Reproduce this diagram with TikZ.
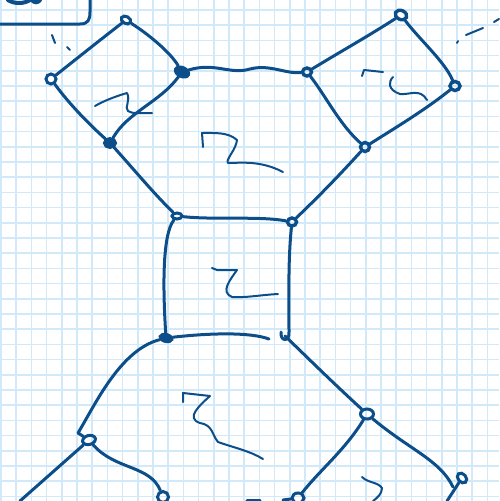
\documentclass[tikz,border=0pt]{standalone}
\usetikzlibrary{shapes.geometric}
\definecolor{ink}{RGB}{12,78,138}
\definecolor{gridc}{RGB}{210,233,249}
\tikzset{
  edge/.style={draw=ink,line width=3pt,line cap=round,line join=round},
  scrib/.style={draw=ink,line width=2pt,line cap=round,line join=round},
  vtx/.style={ellipse,draw=ink,line width=3pt,inner sep=0pt,minimum width=10pt,minimum height=8pt},
  vtxf/.style={vtx,fill=ink},
}
\begin{document}
\begin{tikzpicture}[x=1pt,y=-1pt]
\useasboundingbox (0,0) rectangle (499,501);
\fill[white] (0,0) rectangle (499,501);
% grid paper
\foreach \i in {0,...,32}{
  \draw[gridc,line width=1.6pt] ({1+15.2*\i},0) -- ({1+15.2*\i},501);
  \draw[gridc,line width=1.6pt] (0,{10+15.2*\i}) -- (499,{10+15.2*\i});
}
% vertices
\node[vtx,rotate=-30,minimum width=10pt,minimum height=7pt] (A) at (126,20) {};
\node[vtx,minimum width=10pt,minimum height=10pt] (B) at (51,79) {};
\node[vtxf,rotate=-25,minimum width=14pt,minimum height=9pt] (C) at (182,72) {};
\node[vtxf,minimum width=11pt,minimum height=9pt] (D) at (110,143) {};
\node[vtx,line width=3.4pt,minimum width=9pt,minimum height=8pt] (E) at (307,72) {};
\node[vtx,line width=3.4pt,rotate=-25,minimum width=12pt,minimum height=9pt] (F) at (401,15) {};
\node[vtx,line width=3.4pt,minimum width=10pt,minimum height=9pt] (G) at (455,86) {};
\node[vtx,line width=3.4pt,minimum width=9pt,minimum height=9pt] (H) at (365,147) {};
\node[vtx,line width=3.4pt,minimum width=9pt,minimum height=8pt] (I) at (292,222) {};
\node[vtx,minimum width=10pt,minimum height=6pt] (J) at (177,216) {};
\node[vtxf,rotate=-15,minimum width=12pt,minimum height=7pt] (K) at (166,338) {};
\coordinate (L) at (285,336);
\node[vtx,rotate=15,minimum width=13pt,minimum height=9pt] (M) at (89,440) {};
\node[vtx,minimum width=11pt,minimum height=11pt] (N) at (163,497) {};
\node[vtx,minimum width=13pt,minimum height=10pt] (O) at (367,414) {};
\node[vtx,minimum width=12pt,minimum height=10pt] (P) at (298,498) {};
\node[vtx,rotate=-50,minimum width=11pt,minimum height=8pt] (Q) at (462,478) {};
\coordinate (X1) at (20,501);
\coordinate (X2) at (447,501);
% edges: top-left square
\draw[edge] (A) .. controls (100,40) and (75,60) .. (B);
\draw[edge] (A) .. controls (148,34) and (170,52) .. (C);
\draw[edge] (B) .. controls (70,105) and (90,125) .. (D);
\draw[edge] (D) .. controls (128,112) and (160,102) .. (C);
% upper hexagon
\draw[edge] (C) .. controls (215,62) and (230,75) .. (250,69) .. controls (270,64) and (285,74) .. (E);
\draw[edge] (E) .. controls (325,95) and (340,125) .. (H);
\draw[edge] (H) .. controls (335,180) and (315,200) .. (I);
\draw[edge] (I) .. controls (260,216) and (215,220) .. (J);
\draw[edge] (J) .. controls (155,195) and (130,165) .. (D);
% top-right square
\draw[edge] (E) .. controls (340,52) and (370,35) .. (F);
\draw[edge] (F) .. controls (420,40) and (445,62) .. (G);
\draw[edge] (G) .. controls (425,110) and (395,128) .. (H);
% middle square
\draw[edge] (J) .. controls (162,235) and (163,290) .. (K);
\draw[edge] (I) .. controls (288,260) and (289,300) .. (289,332) .. controls (290,342) and (280,342) .. (281,332);
\draw[edge] (K) .. controls (210,333) and (250,332) .. (269,339);
% lower hexagon
\draw[edge] (K) .. controls (120,350) and (95,405) .. (78,433) -- (M);
\draw[edge] (M) .. controls (115,470) and (150,465) .. (N);
\draw[edge] (M) -- (X1);
\draw[edge] (L) .. controls (310,360) and (330,380) .. (O);
\draw[edge] (O) .. controls (345,450) and (320,470) .. (P);
\draw[edge] (O) .. controls (410,450) and (440,460) .. (453,487);
\draw[edge] (Q) -- (X2);
\draw[edge] (P) -- (283,500);
\draw[edge] (247,500) -- (260,500);
% top-left box remnant and marks
\draw[edge] (0,24) -- (80,24) .. controls (88,24) and (90,20) .. (90,12) -- (90,0);
\draw[ink,line width=4pt,line cap=round] (8,0) .. controls (14,4) and (24,4) .. (30,0);
\draw[ink,line width=4pt,line cap=round] (32,0) .. controls (34,3) and (38,3) .. (40,0);
\draw[scrib] (52,35) -- (55,43);
\draw[scrib] (67,47) -- (70,50);
\draw[scrib] (457,43) -- (458,41);
\draw[scrib] (466,35) -- (483,28);
\draw[scrib] (494,22) -- (499,19);
% scribbles in faces
\draw[scrib] (95,106) .. controls (105,100) and (120,95) .. (127,93) .. controls (131,100) and (124,108) .. (128,111) .. controls (132,114) and (140,113) .. (152,113);
\draw[scrib] (203,147) -- (202,133) .. controls (215,133) and (228,132) .. (237,140) .. controls (236,150) and (225,160) .. (228,163) .. controls (240,163) and (260,160) .. (283,172);
\draw[scrib] (362,76) -- (364,70) -- (383,72);
\draw[scrib] (393,77) .. controls (388,82) and (388,90) .. (400,94) .. controls (410,95) and (420,88) .. (427,100);
\draw[scrib] (212,268) -- (217,270) -- (237,270) .. controls (230,280) and (220,292) .. (232,297) .. controls (245,298) and (260,295) .. (278,294);
\draw[scrib] (183,402) -- (183,393) -- (210,396) .. controls (200,405) and (185,418) .. (200,423) .. controls (213,425) and (212,435) .. (218,442) .. controls (235,448) and (250,451) .. (263,459);
\draw[scrib] (362,477) .. controls (368,483) and (378,482) .. (382,488) .. controls (382,494) and (377,498) .. (373,501);
\end{tikzpicture}
\end{document}
